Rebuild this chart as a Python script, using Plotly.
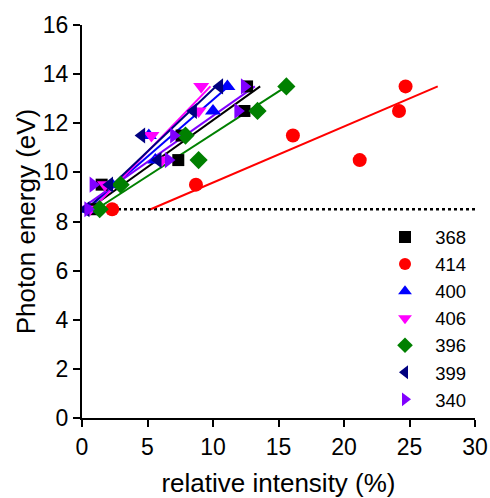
import numpy as np
import plotly.graph_objects as go

# Photon energies (eV) shared by all series
energy = [8.5, 9.5, 10.5, 11.5, 12.5, 13.5]

series_names = ["368", "414", "400", "406", "396", "399", "340"]
# relative intensity (%) per series, for each photon energy
x_368 = [0.85, 1.5, 7.35, 7.6, 12.4, 12.6]
x_414 = [2.3, 8.7, 21.2, 16.1, 24.2, 24.7]
x_400 = [0.5, 2.3, 5.6, 5.1, 10.0, 11.1]
x_406 = [0.6, 1.75, 6.1, 5.3, 8.9, 9.1]
x_396 = [1.35, 2.95, 8.9, 7.9, 13.4, 15.6]
x_399 = [0.3, 2.1, 5.8, 4.55, 8.5, 10.5]
x_340 = [0.45, 0.85, 6.6, 7.0, 11.9, 12.4]
series_x = [x_368, x_414, x_400, x_406, x_396, x_399, x_340]

threshold = 8.5
x_ticks = [0, 5, 10, 15, 20, 25, 30]
y_ticks = [0, 2, 4, 6, 8, 10, 12, 14, 16]

colors = ["#000000", "#FF0000", "#0000FF", "#FF00FF", "#008000", "#000080", "#8000FF"]
symbols = ["square", "circle", "triangle-up", "triangle-down", "diamond", "triangle-left", "triangle-right"]
sizes = [12, 14, 14, 14, 14, 14, 14]

FONT = "Arial, Liberation Sans, sans-serif"

fig = go.Figure()

# threshold dotted line
fig.add_trace(go.Scatter(x=[x_ticks[0], x_ticks[-1]], y=[threshold, threshold], mode="lines",
                         line=dict(color="black", width=2.5, dash="dot"), showlegend=False, hoverinfo="skip"))

# regression lines (x as function of energy)
for xs, c in zip(series_x, colors):
    b, a = np.polyfit(energy, xs, 1)
    ye = [energy[0], energy[-1]]
    fig.add_trace(go.Scatter(x=[a + b * v for v in ye], y=ye, mode="lines",
                             line=dict(color=c, width=2), showlegend=False, hoverinfo="skip"))

for i, (name, xs, c, s, sz) in enumerate(zip(series_names, series_x, colors, symbols, sizes)):
    fig.add_trace(go.Scatter(x=xs, y=energy, mode="markers", name="  " + name,
                             marker=dict(color=c, symbol=s, size=sz, line=dict(width=0))))

axis_common = dict(showline=True, linecolor="black", linewidth=2, ticks="outside", ticklen=7,
                   tickwidth=2, tickcolor="black", showgrid=False, zeroline=False, automargin=False,
                   tickfont=dict(family=FONT, size=23, color="black"))

fig.update_layout(
    width=490, height=498,
    margin=dict(l=82, r=15, t=25, b=80, autoexpand=False),
    plot_bgcolor="white", paper_bgcolor="white",
    font=dict(family=FONT, color="black"),
    xaxis=dict(range=[0, 30], tickvals=x_ticks,
               title=dict(text="relative intensity (%)", font=dict(family=FONT, size=26), standoff=20),
               **axis_common),
    yaxis=dict(range=[0, 16], tickvals=y_ticks,
               title=dict(text="Photon energy (eV)", font=dict(family=FONT, size=26), standoff=0),
               **axis_common),
    legend=dict(x=0.771, y=0.5076, xanchor="left", yanchor="top", bgcolor="rgba(0,0,0,0)",
                font=dict(family=FONT, size=18.5), itemsizing="constant"),
)

fig.write_html("out.html", config={"displayModeBar": False},
               post_script="document.body.style.margin='0';")
